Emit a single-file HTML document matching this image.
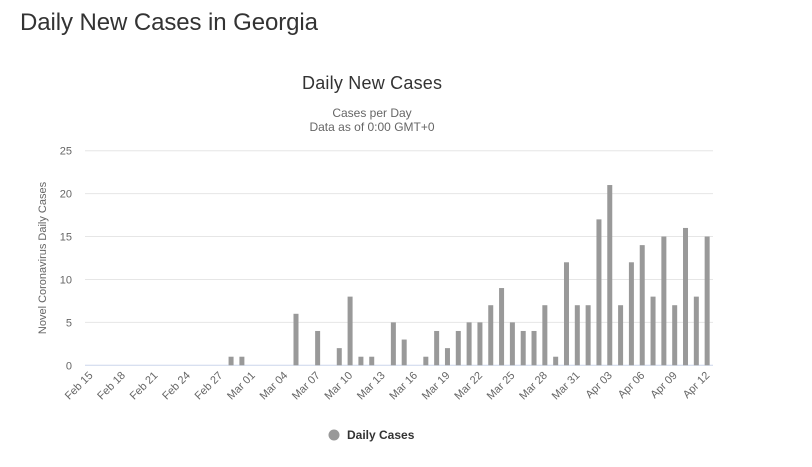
<!DOCTYPE html>
<html><head><meta charset="utf-8"><style>
html,body{margin:0;padding:0;background:#fff;width:812px;height:467px;overflow:hidden}
svg{display:block;font-family:"Liberation Sans",sans-serif}
</style></head><body>
<svg id="s" width="812" height="467" xmlns="http://www.w3.org/2000/svg">
<text x="20" y="30" font-size="24" fill="#333" textLength="298">Daily New Cases in Georgia</text>
<text x="372" y="89" font-size="18" fill="#333" text-anchor="middle" textLength="140">Daily New Cases</text>
<text x="372" y="117" font-size="12" fill="#666" text-anchor="middle">Cases per Day</text>
<text x="372" y="131" font-size="12" fill="#666" text-anchor="middle">Data as of 0:00 GMT+0</text>
<text transform="translate(46,258) rotate(-90)" font-size="11" fill="#666" text-anchor="middle">Novel Coronavirus Daily Cases</text>
<g id="g"></g>
<circle cx="334" cy="435" r="5.5" fill="#999"/>
<text x="347" y="439" font-size="12" font-weight="bold" fill="#333">Daily Cases</text>
</svg>
<script>
(function(){
var g=document.getElementById('g'),h='';
var ty=150.7,bot=365.3,u=(bot-ty)/25;
for(var k=0;k<=5;k++){var y=bot-k*5*u;
h+='<line x1="85" x2="713" y1="'+y+'" y2="'+y+'" stroke="'+(k?'#e6e6e6':'#ccd6eb')+'" stroke-width="1"/>';
h+='<text x="72" y="'+(y+4)+'" font-size="11" fill="#666" text-anchor="end">'+k*5+'</text>';}
var v={13:1,14:1,19:6,21:4,23:2,24:8,25:1,26:1,28:5,29:3};
var r=[1,4,2,4,5,5,7,9,5,4,4,7,1,12,7,7,17,21,7,12,14,8,15,7,16,8,15];
for(var i=0;i<r.length;i++)v[31+i]=r[i];
var cw=10.82;
for(var i in v){var c=85+cw*(+i+0.5),hh=v[i]*u;
h+='<rect x="'+(c-2.5)+'" y="'+(bot-hh)+'" width="5" height="'+hh+'" fill="#999"/>';}
for(var i=0;i<58;i+=3){var d,m;
if(i<15){m='Feb';d=15+i}else if(i<46){m='Mar';d=i-14}else{m='Apr';d=i-45}
var c=85+cw*(i+0.5);
h+='<text transform="translate('+(c+3)+',376) rotate(-45)" font-size="11" fill="#666" text-anchor="end">'+m+' '+(d<10?'0'+d:d)+'</text>';}
g.innerHTML=h;
})();
</script>
</body></html>
